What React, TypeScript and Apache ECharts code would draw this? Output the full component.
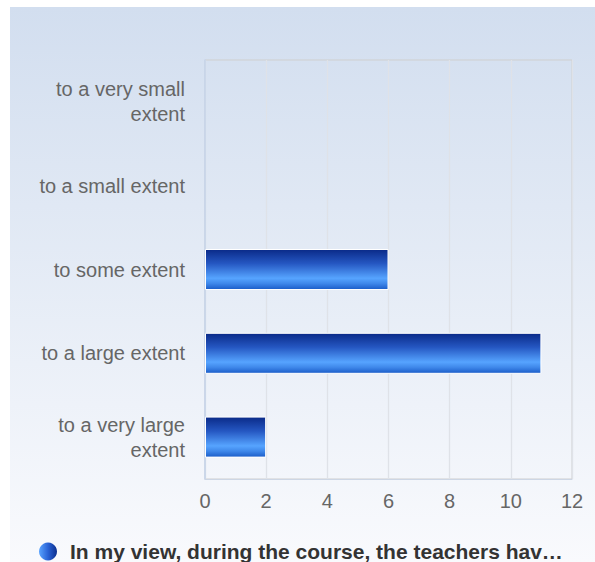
import React, { useEffect, useRef } from "react";
import * as echarts from "echarts";

const categories = [
  "to a very large\nextent",
  "to a large extent",
  "to some extent",
  "to a small extent",
  "to a very small\nextent",
];
const values = [2, 11, 6, 0, 0];
const seriesName = "In my view, during the course, the teachers hav…";
const xTicks = [0, 2, 4, 6, 8, 10, 12];

export default function App() {
  const ref = useRef<HTMLDivElement>(null);
  useEffect(() => {
    if (!ref.current) return;
    const chart = echarts.init(ref.current, undefined, { renderer: "svg" });
    const W = 585;
    const H = 555;
    const font = "Liberation Sans, Arial, sans-serif";
    chart.setOption({
      animation: false,
      graphic: [
        {
          type: "rect",
          z: -10,
          silent: true,
          shape: { x: 0, y: 0, width: W, height: H },
          style: {
            fill: new echarts.graphic.LinearGradient(0, 0, 0, 1, [
              { offset: 0, color: "#d2deef" },
              { offset: 1, color: "#f9fafd" },
            ]),
          },
        },
      ],
      grid: {
        left: 195,
        top: 53,
        right: 23,
        bottom: 83,
        show: true,
        borderColor: "#cfcfcf",
        borderWidth: 1,
        backgroundColor: "transparent",
      },
      legend: {
        left: 24,
        top: 529,
        icon: "circle",
        itemWidth: 18,
        itemHeight: 18,
        textStyle: {
          fontFamily: font,
          fontSize: 21,
          fontWeight: "bold",
          color: "#333333",
          padding: [0, 0, 0, 8],
        },
        data: [
          {
            name: seriesName,
            itemStyle: {
              color: new echarts.graphic.LinearGradient(0, 0, 1, 0, [
                { offset: 0, color: "#5aa4ff" },
                { offset: 0.5, color: "#2a63d6" },
                { offset: 1, color: "#0c2f8e" },
              ]),
              borderWidth: 0,
            },
          },
        ],
      },
      xAxis: {
        type: "value",
        min: 0,
        max: 12,
        interval: 2,
        axisLine: { show: true, lineStyle: { color: "#cdd6e4", width: 1 } },
        axisTick: { show: false },
        splitLine: { show: true, lineStyle: { color: "#dfe2e8", width: 1.3 } },
        axisLabel: {
          margin: 12,
          fontSize: 20,
          color: "#666666",
          fontFamily: font,
          formatter: (v: number) => (xTicks.includes(v) ? String(v) : ""),
        },
      },
      yAxis: {
        type: "category",
        data: categories,
        axisLine: { show: true, lineStyle: { color: "#c5d3ea", width: 1.5 } },
        axisTick: { show: false },
        splitLine: { show: false },
        axisLabel: {
          margin: 20,
          fontSize: 20,
          lineHeight: 25,
          color: "#666666",
          align: "right",
          fontFamily: font,
        },
      },
      series: [
        {
          name: seriesName,
          type: "bar",
          data: values.map((v) => ({
            value: v,
            itemStyle: v === 0 ? { borderWidth: 0, opacity: 0 } : undefined,
          })),
          barWidth: 41,
          itemStyle: {
            borderColor: "#ffffff",
            borderWidth: 1,
            color: new echarts.graphic.LinearGradient(0, 0, 0, 1, [
              { offset: 0, color: "#0a2a88" },
              { offset: 0.35, color: "#2557c2" },
              { offset: 0.72, color: "#56a4ff" },
              { offset: 0.85, color: "#3f88ea" },
              { offset: 1, color: "#1a5cc8" },
            ]),
          },
        },
      ],
    });
    return () => chart.dispose();
  }, []);
  return (
    <div
      ref={ref}
      style={{ position: "absolute", left: 10, top: 7, width: 585, height: 555 }}
    />
  );
}
